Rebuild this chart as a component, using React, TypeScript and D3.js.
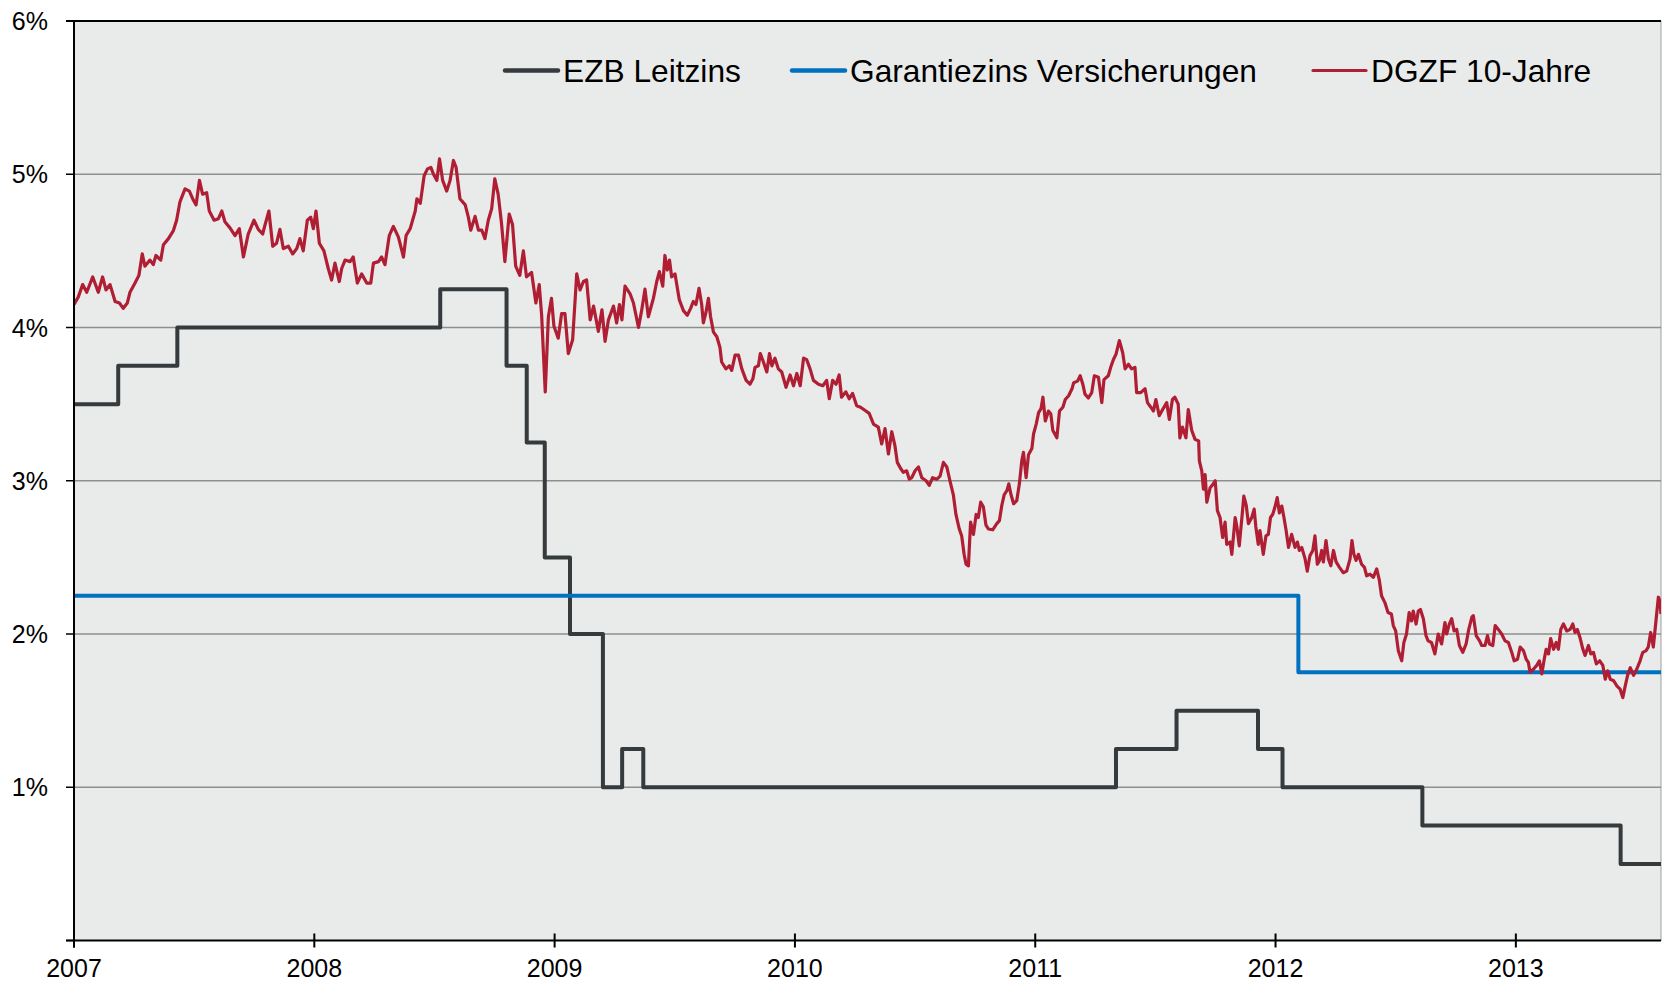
import React from 'react';
import * as d3 from 'd3';

// years since 2007 (decimal) / rate in %
const yearLabels = ['2007', '2008', '2009', '2010', '2011', '2012', '2013'];
const percentTicks = [0, 1, 2, 3, 4, 5, 6];

const ezbTimes = [0, 0.184, 0.43, 1.524, 1.8, 1.884, 1.959, 2.064, 2.201, 2.281, 2.369, 4.336, 4.588, 4.927, 5.029, 5.611, 6.436, 6.604];
const ezbRates = [3.5, 3.75, 4.0, 4.25, 3.75, 3.25, 2.5, 2.0, 1.0, 1.25, 1.0, 1.25, 1.5, 1.25, 1.0, 0.75, 0.5, 0.5];

const garantieTimes = [0, 5.095, 6.604];
const garantieRates = [2.25, 1.75, 1.75];

const dgzf: [number, number][] = [
  [0.000,4.15],[0.018,4.20],[0.036,4.28],[0.053,4.23],[0.078,4.33],[0.101,4.23],[0.119,4.33],[0.133,4.245],[0.150,4.28],[0.171,4.17],[0.189,4.16],[0.205,4.125],[0.222,4.16],[0.233,4.23],[0.254,4.29],[0.270,4.34],[0.284,4.48],[0.295,4.40],[0.316,4.44],[0.330,4.41],[0.341,4.47],[0.361,4.44],[0.372,4.54],[0.393,4.58],[0.413,4.63],[0.427,4.70],[0.441,4.82],[0.462,4.905],[0.480,4.89],[0.497,4.83],[0.508,4.80],[0.522,4.96],[0.535,4.87],[0.552,4.88],[0.563,4.76],[0.583,4.70],[0.601,4.71],[0.615,4.76],[0.628,4.69],[0.649,4.65],[0.670,4.60],[0.688,4.645],[0.705,4.46],[0.725,4.61],[0.749,4.70],[0.767,4.64],[0.785,4.61],[0.795,4.67],[0.811,4.76],[0.827,4.53],[0.843,4.55],[0.857,4.64],[0.871,4.515],[0.892,4.53],[0.910,4.48],[0.927,4.515],[0.940,4.58],[0.954,4.50],[0.971,4.70],[0.985,4.72],[0.996,4.645],[1.007,4.76],[1.021,4.55],[1.040,4.50],[1.058,4.385],[1.072,4.31],[1.086,4.42],[1.104,4.30],[1.114,4.385],[1.128,4.44],[1.149,4.43],
  [1.162,4.46],[1.179,4.29],[1.197,4.35],[1.218,4.29],[1.235,4.29],[1.246,4.42],[1.267,4.43],[1.280,4.46],[1.294,4.41],[1.312,4.60],[1.329,4.66],[1.350,4.59],[1.371,4.46],[1.382,4.60],[1.399,4.645],[1.420,4.76],[1.427,4.84],[1.441,4.81],[1.457,4.99],[1.471,5.035],[1.485,5.045],[1.496,5.00],[1.510,4.96],[1.521,5.10],[1.534,4.96],[1.551,4.89],[1.565,4.96],[1.579,5.09],[1.590,5.045],[1.606,4.84],[1.628,4.80],[1.641,4.72],[1.651,4.635],[1.669,4.725],[1.683,4.635],[1.697,4.635],[1.710,4.58],[1.724,4.70],[1.738,4.775],[1.751,4.97],[1.765,4.87],[1.779,4.68],[1.793,4.43],[1.811,4.74],[1.825,4.67],[1.838,4.40],[1.855,4.34],[1.870,4.50],[1.883,4.33],[1.904,4.36],[1.922,4.16],[1.936,4.28],[1.946,4.08],[1.961,3.58],[1.974,4.07],[1.987,4.19],[1.997,4.01],[2.015,3.93],[2.029,4.09],[2.043,4.09],[2.057,3.83],[2.075,3.92],[2.092,4.35],[2.106,4.245],[2.120,4.30],[2.133,4.31],[2.148,4.05],[2.162,4.14],[2.182,3.975],[2.197,4.115],[2.210,3.91],[2.224,4.05],[2.245,4.14],[2.258,4.03],[2.270,4.15],[2.280,4.05],[2.293,4.27],[2.314,4.22],[2.328,4.16],[2.349,4.00],
  [2.362,4.11],[2.376,4.25],[2.390,4.07],[2.411,4.19],[2.425,4.30],[2.436,4.365],[2.450,4.27],[2.459,4.47],[2.469,4.375],[2.478,4.44],[2.487,4.33],[2.501,4.35],[2.519,4.18],[2.536,4.11],[2.552,4.08],[2.566,4.125],[2.577,4.17],[2.588,4.15],[2.601,4.255],[2.612,4.15],[2.619,4.03],[2.630,4.10],[2.640,4.19],[2.649,4.07],[2.661,3.97],[2.675,3.94],[2.688,3.87],[2.695,3.775],[2.713,3.73],[2.727,3.75],[2.737,3.72],[2.751,3.82],[2.765,3.82],[2.779,3.73],[2.797,3.655],[2.813,3.63],[2.825,3.665],[2.834,3.74],[2.848,3.75],[2.856,3.83],[2.869,3.775],[2.883,3.71],[2.894,3.83],[2.904,3.75],[2.917,3.80],[2.931,3.73],[2.945,3.71],[2.963,3.61],[2.980,3.69],[2.994,3.62],[3.008,3.70],[3.022,3.62],[3.036,3.80],[3.049,3.79],[3.063,3.73],[3.077,3.655],[3.098,3.63],[3.116,3.62],[3.132,3.655],[3.143,3.535],[3.157,3.655],[3.171,3.63],[3.184,3.69],[3.194,3.545],[3.212,3.58],[3.226,3.535],[3.240,3.57],[3.257,3.49],[3.273,3.48],[3.291,3.46],[3.309,3.44],[3.327,3.37],[3.347,3.35],[3.361,3.24],[3.375,3.34],[3.389,3.175],[3.403,3.32],[3.416,3.23],[3.426,3.12],[3.440,3.08],[3.451,3.055],[3.465,3.065],[3.476,3.01],
  [3.486,3.02],[3.500,3.065],[3.514,3.09],[3.528,3.02],[3.546,3.00],[3.559,2.97],[3.573,3.02],[3.590,3.01],[3.604,3.03],[3.618,3.12],[3.632,3.09],[3.645,3.00],[3.659,2.91],[3.670,2.78],[3.684,2.685],[3.694,2.64],[3.704,2.52],[3.712,2.455],[3.722,2.445],[3.731,2.73],[3.743,2.65],[3.754,2.78],[3.763,2.76],[3.773,2.86],[3.784,2.83],[3.795,2.71],[3.805,2.685],[3.823,2.68],[3.840,2.72],[3.851,2.74],[3.861,2.84],[3.871,2.91],[3.882,2.935],[3.890,2.98],[3.899,2.91],[3.910,2.85],[3.923,2.87],[3.934,2.98],[3.944,3.13],[3.951,3.185],[3.962,3.02],[3.972,3.17],[3.986,3.21],[3.993,3.305],[4.004,3.37],[4.014,3.445],[4.024,3.47],[4.032,3.545],[4.042,3.39],[4.055,3.455],[4.065,3.435],[4.073,3.33],[4.090,3.28],[4.101,3.455],[4.115,3.48],[4.125,3.53],[4.139,3.555],[4.153,3.60],[4.160,3.64],[4.176,3.65],[4.187,3.685],[4.198,3.63],[4.207,3.565],[4.221,3.54],[4.235,3.575],[4.246,3.685],[4.263,3.675],[4.277,3.51],[4.286,3.66],[4.304,3.685],[4.314,3.74],[4.325,3.79],[4.336,3.825],[4.350,3.915],[4.364,3.835],[4.374,3.73],[4.388,3.76],[4.401,3.73],[4.415,3.74],[4.422,3.575],[4.439,3.575],[4.457,3.60],[4.467,3.51],[4.481,3.48],[4.492,3.455],[4.502,3.53],[4.516,3.425],[4.532,3.47],[4.547,3.51],[4.558,3.40],[4.571,3.53],[4.581,3.545],[4.595,3.50],[4.602,3.28],[4.613,3.35],[4.627,3.28],[4.637,3.465],
  [4.651,3.33],[4.665,3.27],[4.680,3.26],[4.683,3.13],[4.693,3.065],[4.700,2.945],[4.707,3.04],[4.714,2.86],[4.728,2.955],[4.741,2.98],[4.749,3.00],[4.758,2.805],[4.769,2.76],[4.780,2.63],[4.790,2.73],[4.797,2.585],[4.811,2.60],[4.818,2.52],[4.832,2.76],[4.839,2.70],[4.849,2.575],[4.860,2.76],[4.868,2.90],[4.878,2.84],[4.887,2.72],[4.901,2.76],[4.911,2.815],[4.918,2.70],[4.928,2.585],[4.935,2.675],[4.949,2.52],[4.960,2.64],[4.970,2.65],[4.979,2.76],[4.988,2.78],[4.997,2.825],[5.007,2.89],[5.016,2.79],[5.026,2.835],[5.035,2.76],[5.044,2.675],[5.054,2.565],[5.067,2.65],[5.081,2.565],[5.091,2.60],[5.099,2.545],[5.109,2.565],[5.123,2.49],[5.132,2.41],[5.143,2.51],[5.155,2.545],[5.164,2.64],[5.174,2.455],[5.183,2.48],[5.192,2.545],[5.199,2.47],[5.210,2.61],[5.220,2.49],[5.230,2.445],[5.241,2.545],[5.252,2.47],[5.266,2.435],[5.282,2.40],[5.296,2.41],[5.310,2.49],[5.318,2.61],[5.326,2.52],[5.335,2.48],[5.345,2.52],[5.358,2.455],[5.370,2.435],[5.379,2.38],[5.393,2.39],[5.407,2.37],[5.421,2.425],[5.432,2.35],[5.441,2.25],[5.455,2.205],[5.468,2.14],[5.482,2.13],[5.490,2.055],[5.500,2.02],[5.511,1.89],[5.525,1.825],[5.534,1.945],[5.545,2.00],[5.556,2.14],[5.566,2.085],[5.573,2.15],[5.585,2.065],[5.594,2.15],[5.603,2.16],[5.615,2.10],[5.626,1.99],[5.635,1.955],[5.649,1.945],[5.663,1.87],[5.677,2.00],[5.691,1.935],[5.705,2.075],[5.712,2.00],[5.723,2.065],[5.733,2.10],[5.743,2.02],[5.754,2.03],[5.765,1.925],[5.779,1.88],[5.793,1.935],[5.804,2.03],
  [5.817,2.11],[5.823,2.12],[5.835,1.99],[5.849,1.955],[5.858,1.925],[5.872,1.925],[5.882,1.99],[5.890,1.935],[5.904,1.925],[5.914,2.055],[5.927,2.03],[5.941,2.00],[5.955,1.955],[5.969,1.945],[5.983,1.88],[5.993,1.825],[6.007,1.835],[6.018,1.915],[6.032,1.89],[6.043,1.835],[6.052,1.815],[6.059,1.75],[6.073,1.77],[6.087,1.795],[6.098,1.825],[6.108,1.74],[6.118,1.835],[6.126,1.90],[6.136,1.87],[6.145,1.97],[6.157,1.90],[6.168,1.945],[6.177,1.90],[6.187,2.03],[6.198,2.065],[6.212,2.02],[6.226,2.03],[6.237,2.065],[6.246,2.01],[6.256,2.03],[6.268,1.97],[6.279,1.90],[6.288,1.86],[6.302,1.925],[6.312,1.87],[6.323,1.88],[6.335,1.805],[6.349,1.825],[6.362,1.795],[6.372,1.705],[6.382,1.76],[6.393,1.705],[6.407,1.695],[6.421,1.66],[6.434,1.64],[6.445,1.585],[6.455,1.66],[6.465,1.73],[6.476,1.78],[6.490,1.73],[6.503,1.77],[6.517,1.825],[6.528,1.88],[6.541,1.89],[6.551,1.915],[6.561,2.01],[6.572,1.915],[6.583,2.085],[6.593,2.24],[6.600,2.215],[6.604,2.13],
];

const legendItems = [
  { label: 'EZB Leitzins', color: '#353a3d', width: 4.5, lineX: 505, textX: 563 },
  { label: 'Garantiezins Versicherungen', color: '#0070c0', width: 4.5, lineX: 792, textX: 850 },
  { label: 'DGZF 10-Jahre', color: '#b01e34', width: 3.2, lineX: 1313, textX: 1371 },
];

const W = 1663;
const H = 983;
const margin = { top: 21, right: 2, bottom: 42.5, left: 74 };
const font = '"Liberation Sans", Arial, sans-serif';

const App: React.FC = () => {
  const x = d3.scaleLinear().domain([0, 6.604]).range([margin.left, W - margin.right]);
  const y = d3.scaleLinear().domain([0, 6]).range([H - margin.bottom, margin.top]);

  const stepLine = d3
    .line<[number, number]>()
    .x((d) => x(d[0]))
    .y((d) => y(d[1]))
    .curve(d3.curveStepAfter);
  const plainLine = d3
    .line<[number, number]>()
    .x((d) => x(d[0]))
    .y((d) => y(d[1]));

  const ezb = ezbTimes.map((t, i) => [t, ezbRates[i]] as [number, number]);
  const garantie = garantieTimes.map((t, i) => [t, garantieRates[i]] as [number, number]);

  const x0 = x(0);
  const x1 = x(6.604);
  const yBottom = y(0);
  const yTop = y(6);

  return (
    <svg width={W} height={H} style={{ position: 'absolute', left: 0, top: 0, display: 'block' }}>
      <rect x={0} y={0} width={W} height={H} fill="#ffffff" />
      <defs>
        <clipPath id="plot">
          <rect x={x0} y={yTop} width={x1 - x0} height={yBottom - yTop} />
        </clipPath>
      </defs>
      <rect x={x0} y={yTop} width={x1 - x0} height={yBottom - yTop} fill="#e9eaea" stroke="#a0a0a0" strokeWidth={1} />

      {percentTicks.slice(1, 6).map((p) => (
        <line key={p} x1={x0} x2={x1} y1={y(p)} y2={y(p)} stroke="#8e8e8e" strokeWidth={1.5} />
      ))}

      <g clipPath="url(#plot)" fill="none" strokeLinejoin="round">
        <path d={stepLine(ezb) || ''} stroke="#353a3d" strokeWidth={4} />
        <path d={stepLine(garantie) || ''} stroke="#0070c0" strokeWidth={4} />
        <path d={plainLine(dgzf) || ''} stroke="#b01e34" strokeWidth={3.2} />
      </g>

      {/* axes */}
      <line x1={x0 - 8} x2={x1} y1={yTop} y2={yTop} stroke="#000" strokeWidth={2} />
      <line x1={x0} x2={x0} y1={yTop} y2={yBottom + 7} stroke="#000" strokeWidth={2} />
      <line x1={x0 - 8} x2={x1} y1={yBottom} y2={yBottom} stroke="#000" strokeWidth={2} />
      {percentTicks.map((p) => (
        <g key={p}>
          <line x1={x0 - 8} x2={x0} y1={y(p)} y2={y(p)} stroke="#000" strokeWidth={1.5} />
          {p > 0 && (
            <text x={48} y={y(p) + 9} textAnchor="end" fontFamily={font} fontSize={25} fill="#000">
              {p}%
            </text>
          )}
        </g>
      ))}
      {yearLabels.map((lbl, i) => (
        <g key={lbl}>
          <line x1={x(i)} x2={x(i)} y1={yBottom - 7} y2={yBottom + 7} stroke="#000" strokeWidth={2} />
          <text x={x(i)} y={977} textAnchor="middle" fontFamily={font} fontSize={25} fill="#000">
            {lbl}
          </text>
        </g>
      ))}

      {/* legend */}
      {legendItems.map((it) => (
        <g key={it.label}>
          <line x1={it.lineX} x2={it.lineX + 53} y1={70.5} y2={70.5} stroke={it.color} strokeWidth={it.width} strokeLinecap="round" />
          <text x={it.textX} y={81.5} fontFamily={font} fontSize={31.7} fill="#000">
            {it.label}
          </text>
        </g>
      ))}
    </svg>
  );
};

export default App;
